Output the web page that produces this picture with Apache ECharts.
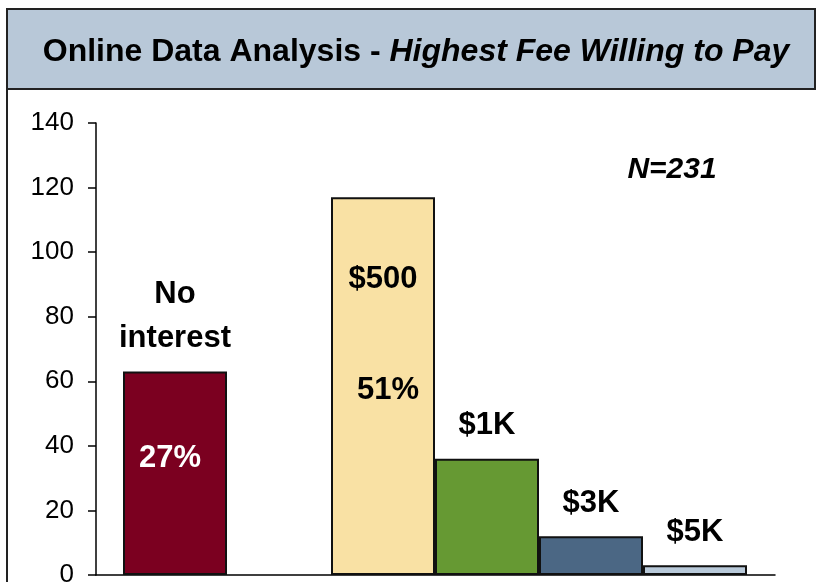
<!DOCTYPE html>
<html>
<head>
<meta charset="utf-8">
<script src="https://cdn.jsdelivr.net/npm/echarts@6/dist/echarts.min.js"></script>
<style>
  html, body { margin: 0; padding: 0; background: #fff; }
  #chart { width: 817px; height: 582px; }
</style>
</head>
<body>
<div id="chart"></div>
<script>
// data (N = 231 respondents)
const categories = ['No interest', '', '$500', '$1K', '$3K', '$5K'];
const counts = [63, '-', 117, 36, 12, 3];
const shares = ['27%', '', '51%', '', '', ''];
const barNames = ['No\ninterest', '', '$500', '$1K', '$3K', '$5K'];
const yTicks = [0, 20, 40, 60, 80, 100, 120, 140];

const colors = ['#7b0020', '#fff', '#f9e1a4', '#669933', '#4b6784', '#b8c9d9'];
const font = "'Liberation Sans', Arial, sans-serif";

const chart = echarts.init(document.getElementById('chart'));

// bar fill + name label for each bar
const barData = counts.map((v, i) => {
  const label = {
    show: barNames[i] !== '',
    formatter: barNames[i],
    position: 'top',
    distance: 11,
    color: '#000',
    fontFamily: font,
    fontWeight: 'bold',
    fontSize: 31,
    lineHeight: 44
  };
  if (categories[i] === '$500') {
    label.position = 'insideTop';
    label.distance = 60;
  }
  return {
    value: v,
    itemStyle: { color: colors[i] },
    label: label
  };
});

// percentage labels sit inside the bars
const pctOffsets = { 'No interest': [-5, -15], '$500': [5, 4] };
const pctData = counts.map((v, i) => ({
  value: v,
  label: {
    show: shares[i] !== '',
    formatter: shares[i],
    position: 'inside',
    offset: pctOffsets[categories[i]] || [0, 0],
    color: i === 0 ? '#fff' : '#000',
    fontFamily: font,
    fontWeight: 'bold',
    fontSize: 31
  }
}));

const option = {
  animation: false,
  backgroundColor: '#fff',
  title: [
    {
      text: '{a|Online Data Analysis - }{b|Highest Fee Willing to Pay}',
      left: 411,
      top: 31,
      textAlign: 'center',
      textStyle: {
        rich: {
          a: { fontFamily: font, fontWeight: 'bold', fontSize: 32, color: '#000' },
          b: { fontFamily: font, fontWeight: 'bold', fontStyle: 'italic', fontSize: 32, color: '#000' }
        }
      }
    },
    {
      text: 'N=231',
      left: 667,
      top: 150,
      textAlign: 'center',
      textStyle: { fontFamily: font, fontWeight: 'bold', fontStyle: 'italic', fontSize: 30, color: '#000' }
    }
  ],
  graphic: [
    {
      type: 'rect',
      z: -10,
      shape: { x: 7, y: 9, width: 808, height: 80 },
      style: { fill: '#b8c8d8', stroke: '#222', lineWidth: 2 }
    },
    {
      type: 'line',
      z: -10,
      shape: { x1: 7, y1: 89, x2: 7, y2: 582 },
      style: { stroke: '#222', lineWidth: 2 }
    }
  ],
  grid: [
    { left: 96, right: 42, top: 123, bottom: 7, outerBoundsMode: 'none' },
    { left: 123, right: 70, top: 123, bottom: 7, outerBoundsMode: 'none' }
  ],
  xAxis: [
    {
      gridIndex: 0,
      type: 'value',
      min: 0,
      max: 1,
      axisLine: { show: true, onZero: false, lineStyle: { color: '#000', width: 1.5 } },
      axisTick: { show: false },
      axisLabel: { show: false },
      splitLine: { show: false }
    },
    {
      gridIndex: 1,
      type: 'category',
      data: categories,
      axisLine: { show: false },
      axisTick: { show: false },
      axisLabel: { show: false }
    }
  ],
  yAxis: [
    {
      gridIndex: 0,
      type: 'value',
      min: yTicks[0],
      max: yTicks[yTicks.length - 1],
      interval: yTicks[1] - yTicks[0],
      axisLine: { show: true, lineStyle: { color: '#000', width: 1.5 } },
      axisTick: { show: true, length: 8, inside: false, lineStyle: { color: '#000', width: 1.5 } },
      axisLabel: { fontFamily: font, fontSize: 26, color: '#000', margin: 22 },
      splitLine: { show: false }
    },
    {
      gridIndex: 1,
      type: 'value',
      min: yTicks[0],
      max: yTicks[yTicks.length - 1],
      show: false
    }
  ],
  series: [
    {
      type: 'bar',
      xAxisIndex: 1,
      yAxisIndex: 1,
      barCategoryGap: 0,
      barGap: '-100%',
      itemStyle: { borderColor: '#111', borderWidth: 2 },
      data: barData
    },
    {
      type: 'bar',
      xAxisIndex: 1,
      yAxisIndex: 1,
      barCategoryGap: 0,
      barGap: '-100%',
      z: 3,
      itemStyle: { color: 'rgba(0,0,0,0)' },
      data: pctData
    }
  ]
};

chart.setOption(option);
</script>
</body>
</html>
